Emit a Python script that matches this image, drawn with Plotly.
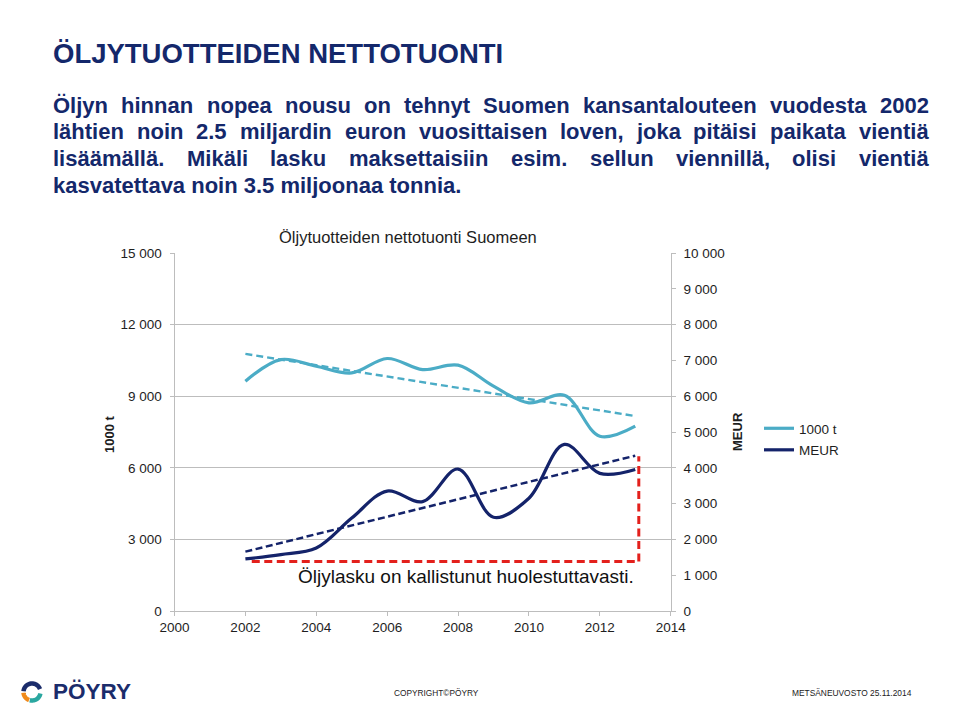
import numpy as np
import plotly.graph_objects as go

# ---------------- data ----------------
years = [2002, 2003, 2004, 2005, 2006, 2007, 2008, 2009, 2010, 2011, 2012, 2013]
tonnes_1000 = [9630, 10535, 10255, 9975, 10580, 10115, 10300, 9420, 8720, 9040, 7325, 7745]
meur = [1455, 1575, 1760, 2595, 3350, 3055, 3965, 2620, 3150, 4655, 3845, 3955]
left_ticks = [0, 3000, 6000, 9000, 12000, 15000]
right_ticks = [0, 1000, 2000, 3000, 4000, 5000, 6000, 7000, 8000, 9000, 10000]
x_ticks = [2000, 2002, 2004, 2006, 2008, 2010, 2012, 2014]
series_names = ["1000 t", "MEUR"]

# call-out (red dashed bracket) in data units (years / MEUR)
callout_x0, callout_x1 = 2002.18, 2013.1
callout_low, callout_high = 1380, 4325

# ---------------- styling ----------------
# the page body keeps an 8 px margin, so the figure is drawn 8 px in from the window edge
OFF = 8
W, H = 960 - 2 * OFF, 711 - 2 * OFF
FONT = "Liberation Sans, Arial, Helvetica, sans-serif"
NAVY_TXT = "#14286B"
LIGHT = "#4BACC6"
NAVY = "#14236A"
RED = "#E3201C"
GRID = "#BDBDBD"
TXT = "#1E1E1E"

def px(x):
    return (x - OFF) / W

def py(y):
    return 1 - (y - OFF) / H

# trend lines (linear regression, as in the original chart's trendlines)
t_fit = np.polyfit(years, tonnes_1000, 1)
m_fit = np.polyfit(years, meur, 1)
trend_x = [years[0], years[-1]]
t_trend = np.polyval(t_fit, trend_x)
m_trend = np.polyval(m_fit, trend_x)

fig = go.Figure()
fig.add_trace(go.Scatter(x=years, y=tonnes_1000, name=series_names[0], mode="lines",
                         line=dict(color=LIGHT, width=3.2, shape="spline", smoothing=1.0),
                         legendgroup="a"))
fig.add_trace(go.Scatter(x=years, y=meur, name=series_names[1], mode="lines", yaxis="y2",
                         line=dict(color=NAVY, width=3.2, shape="spline", smoothing=1.0),
                         legendgroup="b"))
fig.add_trace(go.Scatter(x=trend_x, y=t_trend, mode="lines", showlegend=False,
                         line=dict(color=LIGHT, width=2.4, dash="7px,4px")))
fig.add_trace(go.Scatter(x=trend_x, y=m_trend, mode="lines", showlegend=False, yaxis="y2",
                         line=dict(color=NAVY, width=2.5, dash="7px,3.5px")))

x0p, x1p = 174.5, 670.7
y0p, y1p = 611.0, 253.0

fig.update_layout(
    width=W, height=H,
    margin=dict(l=0, r=0, t=0, b=0),
    paper_bgcolor="white", plot_bgcolor="white",
    separators=", ",
    font=dict(family=FONT, size=13.5, color=TXT),
    showlegend=True,
    legend=dict(x=px(759), y=py(413), xanchor="left", yanchor="top",
                bgcolor="rgba(0,0,0,0)", font=dict(size=13.5, color=TXT),
                tracegroupgap=1),
    xaxis=dict(domain=[px(x0p), px(x1p)], range=[2000, 2014], tickvals=x_ticks,
               showgrid=False, zeroline=False, showline=True, linecolor=GRID, linewidth=1,
               ticks="outside", ticklen=4, tickcolor=GRID, tickfont=dict(size=13.5, color=TXT),
               automargin=False),
    yaxis=dict(domain=[py(y0p), py(y1p)], range=[0, 15000], tickvals=left_ticks,
               tickformat=",d", showgrid=True, gridcolor=GRID, gridwidth=1, zeroline=False,
               showline=True, linecolor=GRID, ticks="outside", ticklen=4, tickcolor=GRID,
               tickfont=dict(size=13.5, color=TXT), ticklabelstandoff=5, automargin=False),
    yaxis2=dict(overlaying="y", side="right", anchor="x", range=[0, 10000], tickvals=right_ticks,
                tickformat=",d", showgrid=False, zeroline=False, showline=True, linecolor=GRID,
                ticks="outside", ticklen=4, tickcolor=GRID,
                tickfont=dict(size=13.5, color=TXT), ticklabelstandoff=5, automargin=False),
)

# red dashed call-out bracket
fig.add_shape(type="line", xref="x", yref="y2", x0=callout_x0, x1=callout_x1,
              y0=callout_low, y1=callout_low, line=dict(color=RED, width=3, dash="8px,4.5px"))
fig.add_shape(type="line", xref="x", yref="y2", x0=callout_x1, x1=callout_x1,
              y0=callout_low, y1=callout_high, line=dict(color=RED, width=3, dash="8px,4.5px"))

ann = []
def add_text(text, x, y, size, color=TXT, bold=False, xanchor="center", yanchor="middle",
             textangle=0, family=FONT):
    t = f"<b>{text}</b>" if bold else text
    ann.append(dict(text=t, x=px(x), y=py(y), xref="paper", yref="paper", showarrow=False,
                    xanchor=xanchor, yanchor=yanchor, textangle=textangle,
                    font=dict(family=family, size=size, color=color)))

# headline
add_text("ÖLJYTUOTTEIDEN NETTOTUONTI", 51, 54, 27.5, NAVY_TXT, True, xanchor="left")

# justified body text
AW = {'a': 556, 'b': 611, 'c': 556, 'd': 611, 'e': 556, 'f': 333, 'g': 611, 'h': 611, 'i': 278,
      'j': 278, 'k': 556, 'l': 278, 'm': 889, 'n': 611, 'o': 611, 'p': 611, 'q': 611, 'r': 389,
      's': 556, 't': 333, 'u': 611, 'v': 556, 'w': 778, 'x': 556, 'y': 556, 'z': 500,
      'ä': 556, 'ö': 611, 'Ö': 778, 'M': 833, 'S': 667, '.': 278, ',': 278, ' ': 278}
for d in "0123456789":
    AW[d] = 556

def tw(s, fs):
    return sum(AW.get(c, 600) for c in s) / 1000 * fs

BODY_FS = 22
body_lines = [
    ("Öljyn hinnan nopea nousu on tehnyt Suomen kansantalouteen vuodesta 2002", True),
    ("lähtien noin 2.5 miljardin euron vuosittaisen loven, joka pitäisi paikata vientiä", True),
    ("lisäämällä. Mikäli lasku maksettaisiin esim. sellun viennillä, olisi vientiä", True),
    ("kasvatettava noin 3.5 miljoonaa tonnia.", False),
]
left_x, right_x = 51.0, 926.5
line_y = [105.5, 132.0, 158.5, 185.0]
for (line, just), yy in zip(body_lines, line_y):
    if not just:
        add_text(line, left_x, yy, BODY_FS, NAVY_TXT, True, xanchor="left")
        continue
    words = line.split(" ")
    widths = [tw(w, BODY_FS) for w in words]
    gap = (right_x - left_x - sum(widths)) / (len(words) - 1)
    xx = left_x
    for w, wd in zip(words, widths):
        add_text(w, xx, yy, BODY_FS, NAVY_TXT, True, xanchor="left")
        xx += wd + gap

# chart title, axis titles, call-out label
add_text("Öljytuotteiden nettotuonti Suomeen", 408, 237, 16.5, TXT)
add_text("1000 t", 109, 434, 13, TXT, True, textangle=-90)
add_text("MEUR", 737, 432, 13, TXT, True, textangle=-90)
add_text("Öljylasku on kallistunut huolestuttavasti.", 466, 576, 19, "#111111")

# footer
add_text("PÖYRY", 51, 691, 22.5, "#1B2C6B", True, xanchor="left")
add_text("COPYRIGHT©PÖYRY", 436, 693, 8.3, "#222222")
add_text("METSÄNEUVOSTO 25.11.2014", 852, 693, 8.4, "#222222")

fig.update_layout(annotations=ann)

# logo mark (decorative arcs)
def arc_path(cx, cy, r, a0, a1, n=24):
    pts = []
    for k in range(n + 1):
        a = np.radians(a0 + (a1 - a0) * k / n)
        pts.append((px(cx + r * np.cos(a)), py(cy - r * np.sin(a))))
    return "M " + " L ".join(f"{a:.5f},{b:.5f}" for a, b in pts)

for (a0, a1, col) in [(20, 175, "#1B2C6B"), (185, 250, "#F08A1C"), (255, 350, "#2AA7A0")]:
    fig.add_shape(type="path", xref="paper", yref="paper", path=arc_path(32, 692, 8.5, a0, a1),
                  line=dict(color=col, width=4.5))

fig.write_html("out.html")
